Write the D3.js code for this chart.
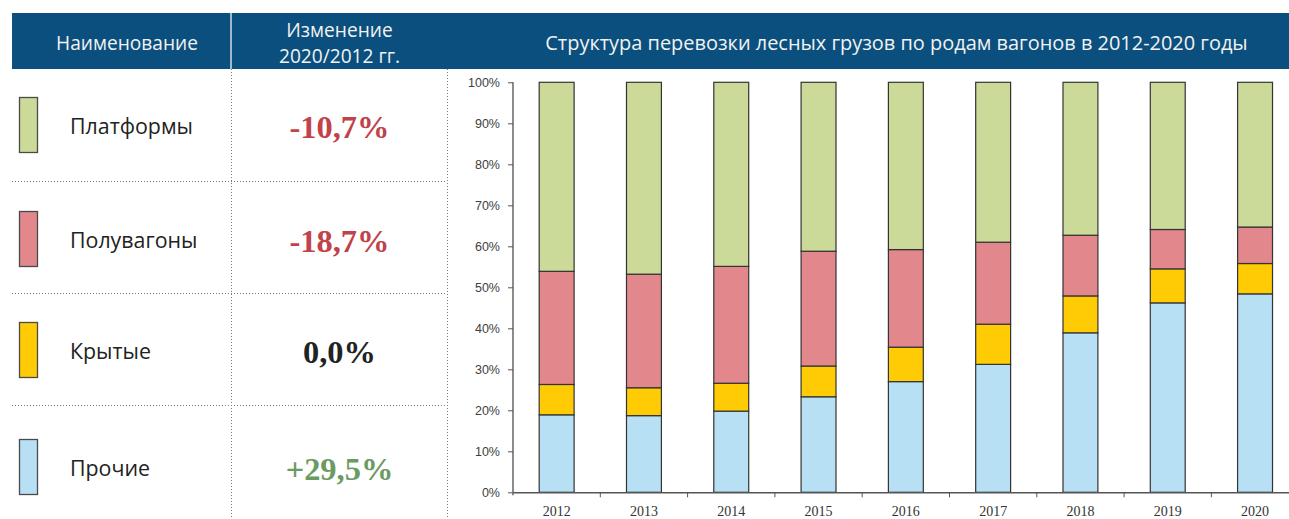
<!DOCTYPE html>
<html>
<head>
<meta charset="utf-8">
<script src="https://cdn.jsdelivr.net/npm/d3@7"></script>
<style>
  html, body { margin: 0; padding: 0; background: #ffffff; }
  svg { display: block; }
</style>
</head>
<body>
<svg id="chart" width="1289" height="519"></svg>
<script>
// ---- data ----
const years = [2012, 2013, 2014, 2015, 2016, 2017, 2018, 2019, 2020];
// shares of forest-cargo shipments by wagon type, %
const prochie    = [18.9, 18.7, 19.8, 23.3, 27.0, 31.2, 38.9, 46.2, 48.4];
const krytye     = [7.4, 6.8, 6.8, 7.5, 8.4, 9.8, 9.0, 8.3, 7.4];
const poluvagony = [27.6, 27.7, 28.5, 28.0, 23.8, 20.0, 14.8, 9.6, 8.9];
const platformy  = [46.1, 46.8, 44.9, 41.2, 40.8, 39.0, 37.3, 35.9, 35.3];

const seriesKeys  = ["prochie", "krytye", "poluvagony", "platformy"];
const seriesNames = ["Прочие", "Крытые", "Полувагоны", "Платформы"];
const seriesColors = ["#b8e0f5", "#fecb05", "#e2888c", "#cbda98"];

// table rows, top to bottom
const tableNames   = ["Платформы", "Полувагоны", "Крытые", "Прочие"];
const tableKeys    = ["platformy", "poluvagony", "krytye", "prochie"];
const tableChanges = ["-10,7%", "-18,7%", "0,0%", "+29,5%"];
const changeColors = ["#c1424a", "#c1424a", "#222222", "#6b9b63"];

const yTicks = [0, 10, 20, 30, 40, 50, 60, 70, 80, 90, 100];

const title = "Структура перевозки лесных грузов по родам вагонов в 2012-2020 годы";
const headName = "Наименование";
const headChange = ["Изменение", "2020/2012 гг."];

// ---- layout ----
const W = 1289, H = 519;
const svg = d3.select("#chart");
svg.append("rect").attr("width", W).attr("height", H).attr("fill", "#fff");

const headTop = 13, headBottom = 69;
const colX = [12, 231, 447];
const blue = "#0a4f7d";
const uiFont = "'Open Sans', 'Noto Sans', sans-serif";

// size a text so its rendered width equals target
function fit(sel, target) {
  const w = sel.node().getComputedTextLength();
  const s = parseFloat(sel.attr("font-size"));
  const ns = s * target / w;
  sel.attr("font-size", ns);
  return ns;
}

// header band
svg.append("rect").attr("x", colX[0]).attr("y", headTop)
  .attr("width", W - colX[0]).attr("height", headBottom - headTop).attr("fill", blue);
svg.append("line").attr("x1", colX[1]).attr("x2", colX[1])
  .attr("y1", headTop).attr("y2", headBottom)
  .attr("stroke", "#9fb8cc").attr("stroke-width", 2);

const hName = svg.append("text").attr("x", 127).attr("y", 50)
  .attr("text-anchor", "middle").attr("font-family", uiFont).attr("font-size", 18)
  .attr("fill", "#f2f2f2").text(headName);
const hs = fit(hName, 142);
svg.append("text").attr("x", 339.5).attr("y", 36.5)
  .attr("text-anchor", "middle").attr("font-family", uiFont).attr("font-size", hs)
  .attr("fill", "#f2f2f2").text(headChange[0]);
svg.append("text").attr("x", 339.5).attr("y", 63)
  .attr("text-anchor", "middle").attr("font-family", uiFont).attr("font-size", hs)
  .attr("fill", "#f2f2f2").text(headChange[1]);

const tt = svg.append("text").attr("x", 896.5).attr("y", 50)
  .attr("text-anchor", "middle").attr("font-family", uiFont).attr("font-size", 18)
  .attr("fill", "#f2f2f2").text(title);
fit(tt, 703);

// table grid (dotted)
const dotted = { stroke: "#7a7a7a", "stroke-width": 1, "stroke-dasharray": "1,2" };
function applyAttrs(sel, a) { Object.entries(a).forEach(([k, v]) => sel.attr(k, v)); return sel; }
[181, 293, 405].forEach(yy => {
  applyAttrs(svg.append("line").attr("x1", colX[0]).attr("x2", colX[2])
    .attr("y1", yy + 0.5).attr("y2", yy + 0.5), dotted);
});
[colX[1], colX[2]].forEach(xx => {
  applyAttrs(svg.append("line").attr("x1", xx + 0.5).attr("x2", xx + 0.5)
    .attr("y1", headBottom).attr("y2", H), dotted);
});

// table rows: swatch, name, change
const swatchCentres = [125, 239, 350, 467];
const colorOf = k => seriesColors[seriesKeys.indexOf(k)];
let labelSize = null, valueSize = null;
tableNames.forEach((name, i) => {
  const cy = swatchCentres[i];
  svg.append("rect").attr("x", 19.5).attr("y", cy - 27.5)
    .attr("width", 18).attr("height", 55)
    .attr("fill", colorOf(tableKeys[i])).attr("stroke", "#4a4a4a").attr("stroke-width", 1.3);
  const lab = svg.append("text").attr("x", 70).attr("y", cy + 8.5)
    .attr("font-family", uiFont).attr("font-size", labelSize || 20)
    .attr("fill", "#222").text(name);
  if (labelSize === null) labelSize = fit(lab, 123);
  const val = svg.append("text").attr("x", 339.5).attr("y", cy + 12.5)
    .attr("text-anchor", "middle")
    .attr("font-family", "'Liberation Serif', 'DejaVu Serif', serif")
    .attr("font-weight", "bold").attr("font-size", valueSize || 30)
    .attr("fill", changeColors[i]).text(tableChanges[i]);
  if (valueSize === null) valueSize = fit(val, 100);
});

// ---- stacked chart ----
const axisLeftX = 513;
const step = 87.3;
const plotTop = 82.3, plotBottom = 492.3;

const x = d3.scaleBand().domain(years)
  .range([axisLeftX, axisLeftX + step * years.length])
  .paddingInner(0.6).paddingOuter(0.3);
const y = d3.scaleLinear().domain([0, 100]).range([plotBottom, plotTop]);

const rows = years.map((yr, i) => ({
  year: yr, prochie: prochie[i], krytye: krytye[i],
  poluvagony: poluvagony[i], platformy: platformy[i]
}));
const stacked = d3.stack().keys(seriesKeys)(rows);

const barsG = svg.append("g");
stacked.forEach((layer, li) => {
  barsG.append("g").attr("fill", seriesColors[li])
    .selectAll("rect").data(layer).join("rect")
    .attr("x", d => x(d.data.year))
    .attr("y", d => y(d[1]))
    .attr("width", x.bandwidth())
    .attr("height", d => y(d[0]) - y(d[1]))
    .attr("stroke", "#333").attr("stroke-width", 1.2);
});

// y axis
const yAxis = svg.append("g").attr("transform", `translate(${axisLeftX},0)`)
  .call(d3.axisLeft(y).tickValues(yTicks).tickSize(5).tickSizeOuter(0)
    .tickFormat(d => d + "%"));
yAxis.select(".domain").attr("stroke", "#8c8c8c").attr("stroke-width", 2)
  .attr("d", `M0,${plotTop}V${plotBottom + 3}`);
yAxis.selectAll(".tick line").attr("stroke", "#555");
yAxis.selectAll(".tick text").attr("x", -13)
  .attr("font-family", "'Liberation Sans', Arial, sans-serif")
  .attr("font-size", 12.5).attr("fill", "#404040");

// x axis: labels centred on bars, tick marks between categories
const xAxis = svg.append("g").attr("transform", `translate(0,${plotBottom})`)
  .call(d3.axisBottom(x).tickSize(0).tickSizeOuter(0).tickPadding(14));
xAxis.select(".domain").attr("stroke", "#555").attr("stroke-width", 1.5);
xAxis.selectAll(".tick text")
  .attr("font-family", "'Liberation Serif', 'Times New Roman', serif")
  .attr("font-size", 14).attr("fill", "#333");
xAxis.selectAll(".sep").data(years.slice(1)).join("line").attr("class", "sep")
  .attr("x1", d => x(d) - (x.step() - x.bandwidth()) / 2)
  .attr("x2", d => x(d) - (x.step() - x.bandwidth()) / 2)
  .attr("y1", 0).attr("y2", 5)
  .attr("stroke", "#555").attr("stroke-width", 1);
</script>
</body>
</html>
